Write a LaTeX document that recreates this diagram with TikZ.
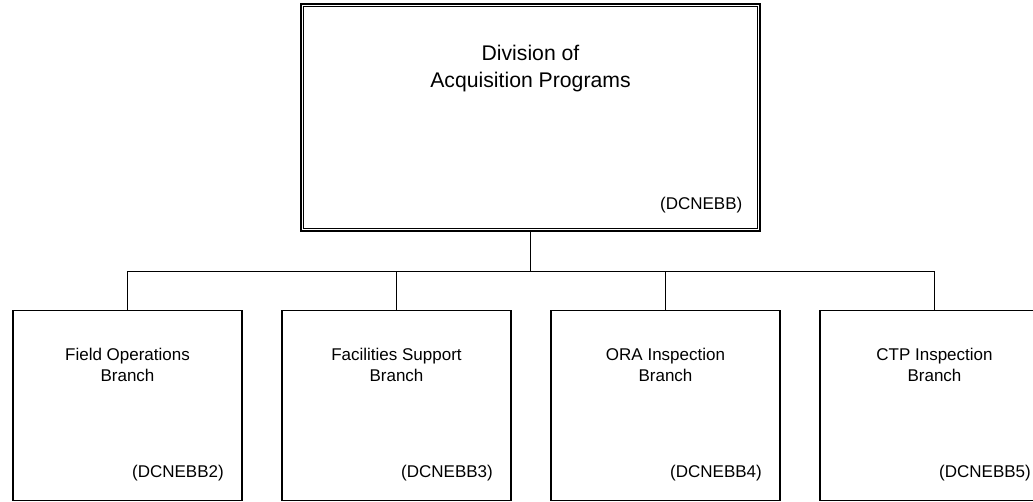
\documentclass[tikz,border=0pt]{standalone}
\usepackage{fontspec}
\setmainfont{Liberation Sans}
\usetikzlibrary{positioning}

\begin{document}
\begin{tikzpicture}[
        x=1pt, y=1pt,
        node distance=38pt,
        topbox/.style={draw, double, line width=1.4pt, double distance=1.2pt,
                       minimum width=456.5pt, minimum height=224.5pt, inner sep=0pt},
        branchbox/.style={draw, line width=1.6pt, minimum width=229.4pt,
                       minimum height=190pt, inner sep=0pt},
        titletext/.style={font=\fontsize{21.2}{27}\selectfont, align=center, inner sep=0pt},
        branchtext/.style={font=\fontsize{17}{21}\selectfont, align=center, inner sep=0pt},
        codetext/.style={font=\fontsize{17}{20}\selectfont, inner sep=0pt},
        conn/.style={line width=1.4pt}
      ]
        \useasboundingbox (0,0) rectangle (1033,-501);
        % division
        \node[topbox] (dap) at (530.5,-117.5) {};
        \node[titletext, below=40pt of dap.north] (dapt) {Division of\\Acquisition Programs};
        \node[codetext, above left=17pt and 17pt of dap.south east] (dapc) {(DCNEBB)};
        % branches
        \node[branchbox] (fob) at (127.5,-405.5) {};
        \node[branchbox, right=of fob] (fsb) {};
        \node[branchbox, right=of fsb] (orab) {};
        \node[branchbox, right=of orab] (ctpb) {};
        \node[branchtext, below=38pt of fob.north] (fobt) {Field Operations\\Branch};
        \node[branchtext, below=38pt of fsb.north] (fsbt) {Facilities Support\\Branch};
        \node[branchtext, below=38pt of orab.north] (orabt) {ORA Inspection\\Branch};
        \node[branchtext, below=38pt of ctpb.north] (ctpbt) {CTP Inspection\\Branch};
        \node[codetext, above left=20pt and 19pt of fob.south east] (fobc) {(DCNEBB2)};
        \node[codetext, above left=20pt and 19pt of fsb.south east] (fsbc) {(DCNEBB3)};
        \node[codetext, above left=20pt and 19pt of orab.south east] (orabc) {(DCNEBB4)};
        \node[codetext, above left=20pt and 19pt of ctpb.south east] (ctpbc) {(DCNEBB5)};
        % connectors
        \foreach \b in {fob, fsb, orab, ctpb}
          \draw[conn] (dap.south) -- ++(0,-41) -| (\b.north);
      \end{tikzpicture}
\end{document}
